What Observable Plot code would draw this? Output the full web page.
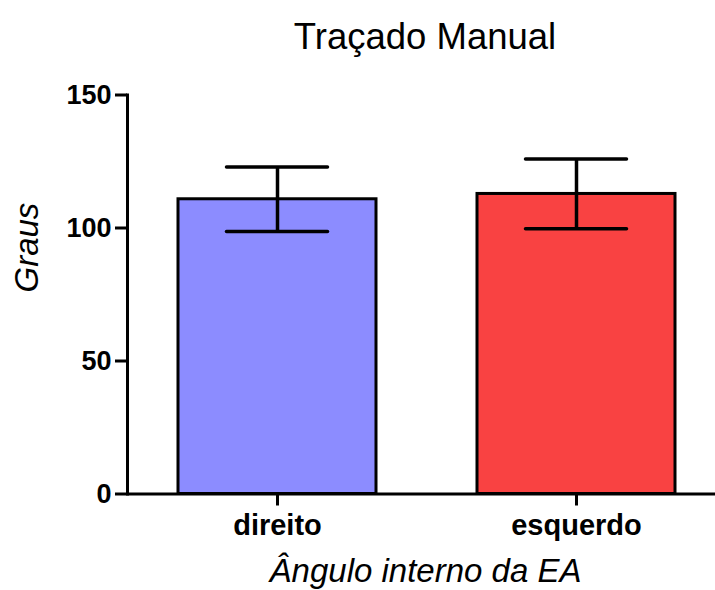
<!DOCTYPE html>
<html>
<head>
<meta charset="utf-8">
<script src="https://cdn.jsdelivr.net/npm/d3@7"></script>
<script src="https://cdn.jsdelivr.net/npm/@observablehq/plot@0.6"></script>
<style>
  html, body { margin: 0; padding: 0; background: #fff; }
  #chart svg { display: block; }
</style>
</head>
<body>
<div id="chart"></div>
<script>
// Ângulo interno da EA — traçado manual (média ± DP)
const categories = ["direito", "esquerdo"];
const means = [110.8, 112.8];
const sds = [12.1, 13.1];
const yTicks = [0, 50, 100, 150];

const titleText = "Traçado Manual";
const xLabel = "Ângulo interno da EA";
const yLabel = "Graus";

const rows = categories.map((c, i) => ({
  cat: c,
  mean: means[i],
  lo: means[i] - sds[i],
  hi: means[i] + sds[i]
}));

const font = "'Liberation Sans', Arial, Helvetica, sans-serif";

const chart = Plot.plot({
  width: 715,
  height: 590,
  marginTop: 94.5,
  marginBottom: 96.5,
  marginLeft: 127,
  marginRight: 0,
  style: { fontFamily: font, background: "#fff", color: "#000" },
  x: {
    type: "band",
    domain: categories,
    range: [127, 725],
    paddingInner: 0.338,
    paddingOuter: 0.169,
    label: null
  },
  y: { domain: [0, 150], label: null },
  color: { domain: categories, range: ["#8c8cff", "#f94242"] },
  marks: [
    Plot.barY(rows, {
      x: "cat", y: "mean", fill: "cat",
      stroke: "#000", strokeWidth: 3
    }),
    Plot.ruleX(rows, { x: "cat", y1: "lo", y2: "hi", stroke: "#000", strokeWidth: 3.5 }),
    Plot.tickY(rows, {
      x: "cat", y: "hi", stroke: "#000", strokeWidth: 3.5,
      strokeLinecap: "round", insetLeft: 48.5, insetRight: 48.5
    }),
    Plot.tickY(rows, {
      x: "cat", y: "lo", stroke: "#000", strokeWidth: 3.5,
      strokeLinecap: "round", insetLeft: 48.5, insetRight: 48.5
    }),
    Plot.frame({ anchor: "left", stroke: "#000", strokeWidth: 3 }),
    Plot.ruleY([0], { stroke: "#000", strokeWidth: 3 }),
    Plot.axisY({
      ticks: yTicks, tickSize: 12, tickPadding: 4,
      strokeWidth: 3, fontSize: 27, fontWeight: "bold",
      label: null
    }),
    Plot.axisX({
      tickSize: 12, tickPadding: 8, strokeWidth: 3,
      fontSize: 29, fontWeight: "bold", label: null
    }),
    Plot.text([titleText], {
      text: d => d, frameAnchor: "top", lineAnchor: "middle",
      dx: 3.5, dy: -58, fontSize: 36.5, fill: "#000"
    }),
    Plot.text([xLabel], {
      text: d => d, frameAnchor: "bottom", lineAnchor: "middle",
      dx: 4, dy: 77, fontSize: 33, fontStyle: "italic", fill: "#000"
    }),
    Plot.text([yLabel], {
      text: d => d, frameAnchor: "left", lineAnchor: "middle",
      rotate: -90, dx: -100, dy: -2, fontSize: 33, fontStyle: "italic", fill: "#000"
    })
  ]
});

document.getElementById("chart").appendChild(chart);
</script>
</body>
</html>
